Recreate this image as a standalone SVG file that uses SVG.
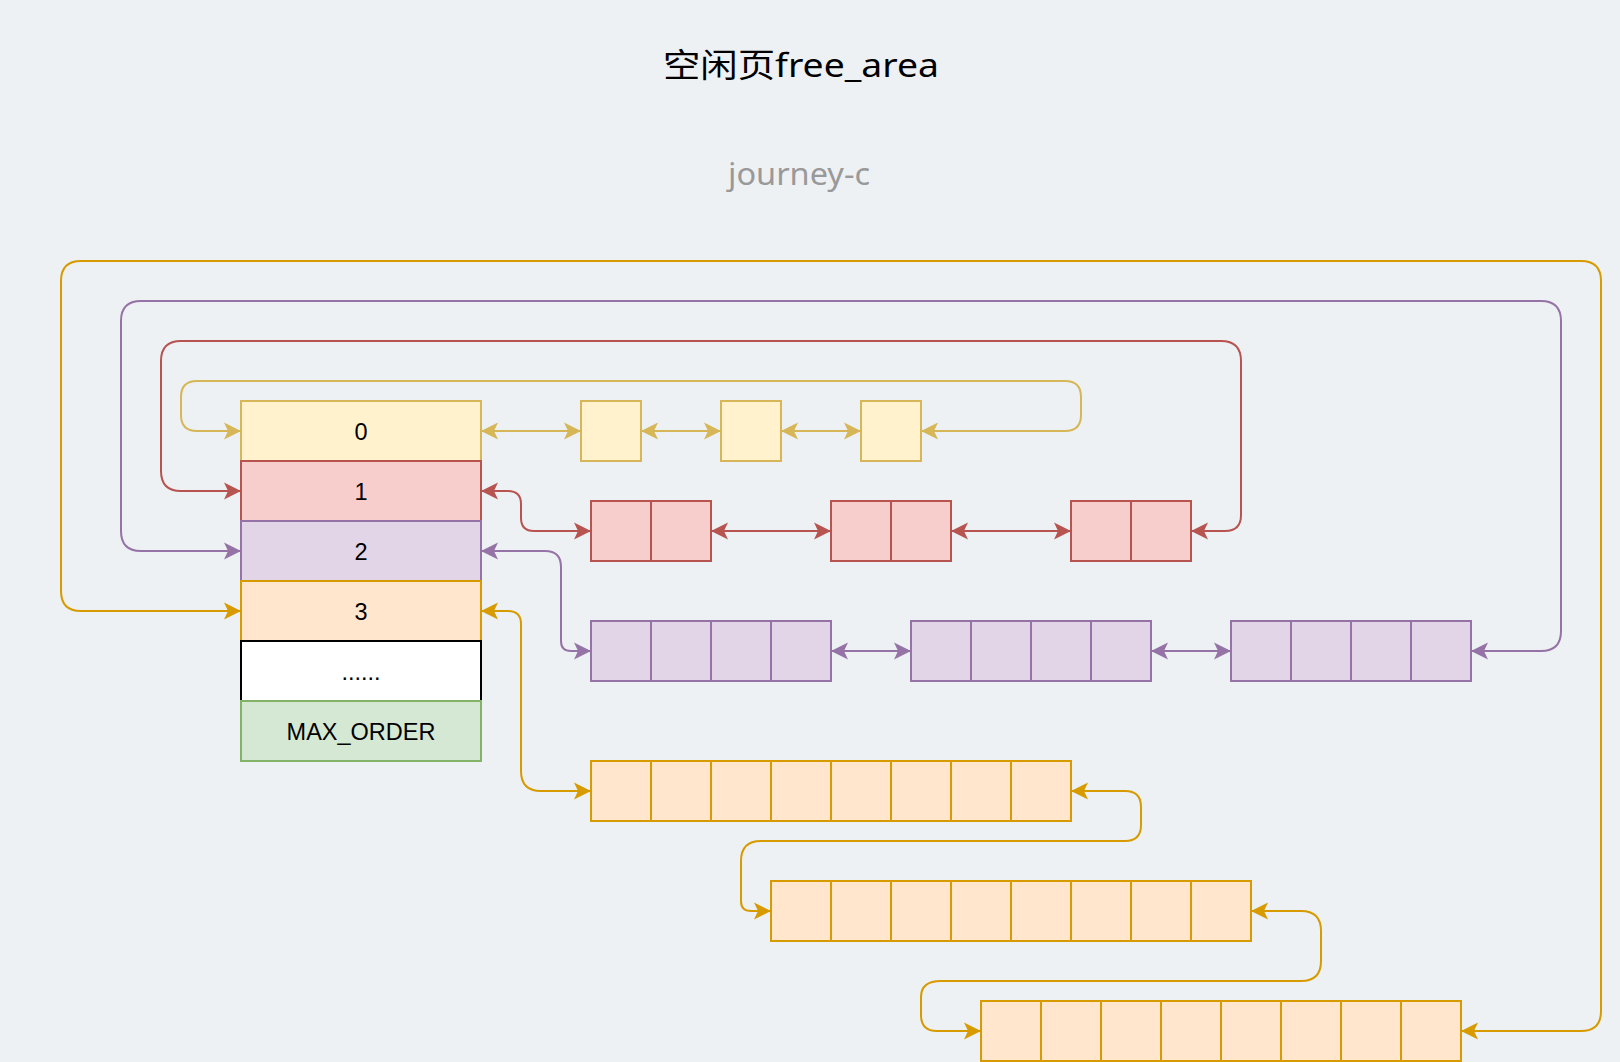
<svg xmlns="http://www.w3.org/2000/svg" width="1620" height="1062" viewBox="0 0 1620 1062">
<style>
.bg{fill:#eef1f4}
.t{font-family:"Liberation Sans",Arial,sans-serif;font-size:23.5px;fill:#000;text-anchor:middle}
.y{fill:#fff2cc;stroke:#d6b656;stroke-width:2}
.r{fill:#f8cecc;stroke:#b85450;stroke-width:2}
.p{fill:#e1d5e7;stroke:#9673a6;stroke-width:2}
.o{fill:#ffe6cc;stroke:#d79b00;stroke-width:2}
.g{fill:#d5e8d4;stroke:#82b366;stroke-width:2}
.w{fill:#ffffff;stroke:#000000;stroke-width:2}
.yl{stroke:#d6b656}
.rl{stroke:#b85450}
.pl{stroke:#9673a6}
.ol{stroke:#d79b00}
.cy{stroke:#d6b656;stroke-width:2;fill:none}
.cr{stroke:#b85450;stroke-width:2;fill:none}
.cp{stroke:#9673a6;stroke-width:2;fill:none}
.co{stroke:#d79b00;stroke-width:2;fill:none}
.cy{marker-start:url(#ay);marker-end:url(#ay)}
.cr{marker-start:url(#ar);marker-end:url(#ar)}
.cp{marker-start:url(#ap);marker-end:url(#ap)}
.co{marker-start:url(#ao);marker-end:url(#ao)}
</style>
<defs>
<marker id="ay" markerUnits="userSpaceOnUse" markerWidth="1" markerHeight="1" refX="0" refY="0" orient="auto-start-reverse" overflow="visible"><path d="M0,0 L-17,-8.5 L-13,0 L-17,8.5 Z" fill="#d6b656"/></marker>
<marker id="ar" markerUnits="userSpaceOnUse" markerWidth="1" markerHeight="1" refX="0" refY="0" orient="auto-start-reverse" overflow="visible"><path d="M0,0 L-17,-8.5 L-13,0 L-17,8.5 Z" fill="#b85450"/></marker>
<marker id="ap" markerUnits="userSpaceOnUse" markerWidth="1" markerHeight="1" refX="0" refY="0" orient="auto-start-reverse" overflow="visible"><path d="M0,0 L-17,-8.5 L-13,0 L-17,8.5 Z" fill="#9673a6"/></marker>
<marker id="ao" markerUnits="userSpaceOnUse" markerWidth="1" markerHeight="1" refX="0" refY="0" orient="auto-start-reverse" overflow="visible"><path d="M0,0 L-17,-8.5 L-13,0 L-17,8.5 Z" fill="#d79b00"/></marker>
</defs>
<rect class="bg" x="0" y="0" width="1620" height="1062"/>
<text id="title" x="801" y="77" font-family="'Noto Sans','Noto Sans CJK SC',sans-serif" font-size="33" fill="#000" text-anchor="middle" textLength="276" lengthAdjust="spacingAndGlyphs">空闲页free_area</text>
<text id="author" x="799" y="185" font-family="'Noto Sans',sans-serif" font-size="30" fill="#999999" text-anchor="middle" textLength="142" lengthAdjust="spacingAndGlyphs">journey-c</text>
<g transform="translate(1,1)">
<g id="connectors">
<path class="cy" d="M480,430 L580,430"/>
<path class="cy" d="M640,430 L720,430"/>
<path class="cy" d="M780,430 L860,430"/>
<path class="cy" d="M920,430 L1064,430 Q1080,430 1080,414 L1080,396 Q1080,380 1064,380 L196,380 Q180,380 180,396 L180,414 Q180,430 196,430 L240,430"/>
<path class="cr" d="M480,490 L507,490 Q520,490 520,503 L520,517 Q520,530 533,530 L590,530"/>
<path class="cr" d="M710,530 L830,530"/>
<path class="cr" d="M950,530 L1070,530"/>
<path class="cr" d="M1190,530 L1224,530 Q1240,530 1240,514 L1240,360 Q1240,340 1220,340 L180,340 Q160,340 160,360 L160,470 Q160,490 180,490 L240,490"/>
<path class="cp" d="M480,550 L544,550 Q560,550 560,566 L560,640 Q560,650 570,650 L590,650"/>
<path class="cp" d="M830,650 L910,650"/>
<path class="cp" d="M1150,650 L1230,650"/>
<path class="cp" d="M1470,650 L1540,650 Q1560,650 1560,630 L1560,320 Q1560,300 1540,300 L140,300 Q120,300 120,320 L120,530 Q120,550 140,550 L240,550"/>
<path class="co" d="M480,610 L507,610 Q520,610 520,623 L520,770 Q520,790 540,790 L590,790"/>
<path class="co" d="M1070,790 L1124,790 Q1140,790 1140,806 L1140,824 Q1140,840 1124,840 L760,840 Q740,840 740,860 L740,900 Q740,910 750,910 L770,910"/>
<path class="co" d="M1250,910 L1300,910 Q1320,910 1320,930 L1320,960 Q1320,980 1300,980 L940,980 Q920,980 920,996 L920,1014 Q920,1030 936,1030 L980,1030"/>
<path class="co" d="M1460,1030 L1580,1030 Q1600,1030 1600,1010 L1600,280 Q1600,260 1580,260 L80,260 Q60,260 60,280 L60,590 Q60,610 80,610 L240,610"/>
</g>
<g id="free_area">
<g id="order0"><rect class="y" x="240" y="400" width="240" height="60"/><text class="t" x="360" y="438.5">0</text></g>
<g id="order1"><rect class="r" x="240" y="460" width="240" height="60"/><text class="t" x="360" y="498.5">1</text></g>
<g id="order2"><rect class="p" x="240" y="520" width="240" height="60"/><text class="t" x="360" y="558.5">2</text></g>
<g id="order3"><rect class="o" x="240" y="580" width="240" height="60"/><text class="t" x="360" y="618.5">3</text></g>
<g id="orderN"><rect class="w" x="240" y="640" width="240" height="60"/><text class="t" x="360" y="678.5">......</text></g>
<g id="maxorder"><rect class="g" x="240" y="700" width="240" height="60"/><text class="t" x="360" y="738.5">MAX_ORDER</text></g>
</g>
<g id="y1"><rect class="y" x="580" y="400" width="60" height="60"/></g>
<g id="y2"><rect class="y" x="720" y="400" width="60" height="60"/></g>
<g id="y3"><rect class="y" x="860" y="400" width="60" height="60"/></g>
<g id="r1"><rect class="r" x="590" y="500" width="120" height="60"/><path class="rl" stroke-width="2" d="M650,500 V560"/></g>
<g id="r2"><rect class="r" x="830" y="500" width="120" height="60"/><path class="rl" stroke-width="2" d="M890,500 V560"/></g>
<g id="r3"><rect class="r" x="1070" y="500" width="120" height="60"/><path class="rl" stroke-width="2" d="M1130,500 V560"/></g>
<g id="p1"><rect class="p" x="590" y="620" width="240" height="60"/><path class="pl" stroke-width="2" d="M650,620 V680 M710,620 V680 M770,620 V680"/></g>
<g id="p2"><rect class="p" x="910" y="620" width="240" height="60"/><path class="pl" stroke-width="2" d="M970,620 V680 M1030,620 V680 M1090,620 V680"/></g>
<g id="p3"><rect class="p" x="1230" y="620" width="240" height="60"/><path class="pl" stroke-width="2" d="M1290,620 V680 M1350,620 V680 M1410,620 V680"/></g>
<g id="o1"><rect class="o" x="590" y="760" width="480" height="60"/><path class="ol" stroke-width="2" d="M650,760 V820 M710,760 V820 M770,760 V820 M830,760 V820 M890,760 V820 M950,760 V820 M1010,760 V820"/></g>
<g id="o2"><rect class="o" x="770" y="880" width="480" height="60"/><path class="ol" stroke-width="2" d="M830,880 V940 M890,880 V940 M950,880 V940 M1010,880 V940 M1070,880 V940 M1130,880 V940 M1190,880 V940"/></g>
<g id="o3"><rect class="o" x="980" y="1000" width="480" height="60"/><path class="ol" stroke-width="2" d="M1040,1000 V1060 M1100,1000 V1060 M1160,1000 V1060 M1220,1000 V1060 M1280,1000 V1060 M1340,1000 V1060 M1400,1000 V1060"/></g>
</g>
</svg>
